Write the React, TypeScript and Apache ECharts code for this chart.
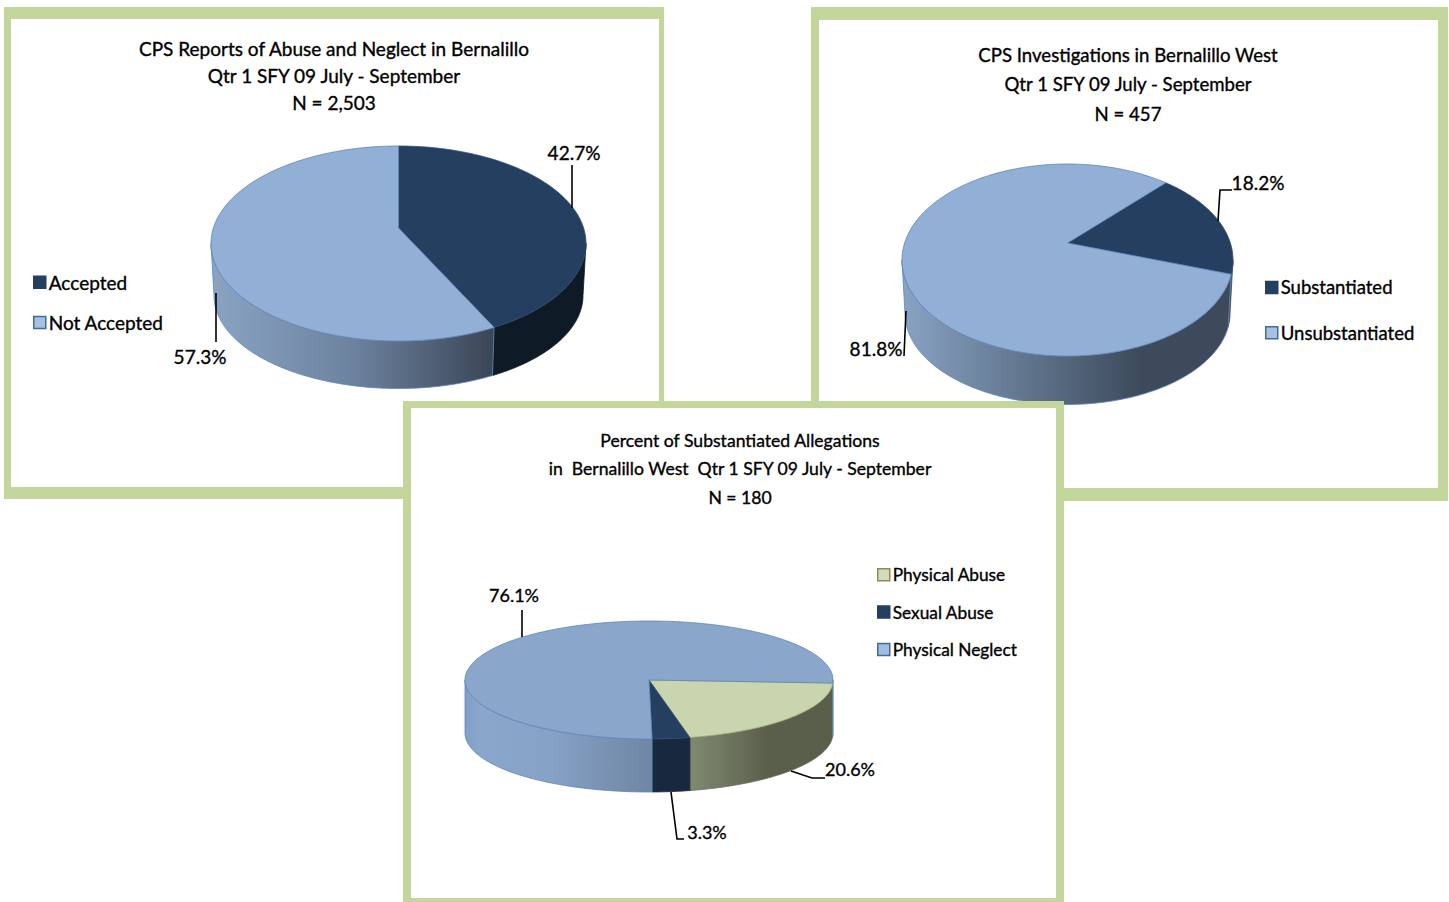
import React, { useEffect, useRef } from "react";
import * as echarts from "echarts";

const FONT = "Lato";
const TEXT = "#000000";
const FAUX_WEIGHT = 0.35;

// ---------- data ----------
const reportNames = ["Accepted", "Not Accepted"];
const reportValues = [42.7, 57.3];
const investigationNames = ["Substantiated", "Unsubstantiated"];
const investigationValues = [18.2, 81.8];
const allegationNames = ["Physical Abuse", "Sexual Abuse", "Physical Neglect"];
const allegationValues = [20.6, 3.3, 76.1];
const reportTitle = "CPS Reports of Abuse and Neglect in Bernalillo\nQtr 1 SFY 09 July - September\nN = 2,503";
const investigationTitle = "CPS Investigations in Bernalillo West\nQtr 1 SFY 09 July - September\nN = 457";
const allegationTitle = "Percent of Substantiated Allegations\nin  Bernalillo West  Qtr 1 SFY 09 July - September\nN = 180";

// ---------- layout and style ----------
const DARK = "#243f60";
const LIGHT = "#92afd5";

const panels = [
  { outer: [4, 7, 660, 492], inner: [11, 19, 648, 468], z: 0 },
  { outer: [811, 7, 637, 494], inner: [819, 20, 619, 468], z: 0 },
  { outer: [403, 401, 661, 501], inner: [411, 408, 645, 490], z: 3 },
];

type Slice = {
  top: string; edge: string; wall: [number, string][]; wallEdge: string;
  label: [number, number]; leader: [number, number][]; g?: [number, number];
};

const pies = [
  {
    names: reportNames, values: reportValues, title: reportTitle, start: 0, z: 1,
    geo: { cx: 398.5, rx: 187.5, top: 146, apex: 228, bottom: 341, sx: 0.984, sy: 0.954, d: 52, g0: 213, g1: 495 },
    titlePos: [334, 35], titleLine: 27, titleSize: 19,
    legendPos: [33, 272.5], legendGap: 21, legendSize: 19, labelSize: 19,
    legendStyle: [{ color: DARK, borderColor: DARK }, { color: "#a9c1df", borderColor: "#3f6c9f" }],
    slices: [
      { top: DARK, edge: "#2f5078", wall: [[0, "#0e1b27"], [1, "#0e1b27"]], wallEdge: "#0e1b27", label: [574, 152], leader: [[572, 165], [572, 208]] },
      { top: LIGHT, edge: "#5c86b8", wall: [[0, "#8aa3c3"], [0.5, "#6c829e"], [1, "#3a4556"]], wallEdge: "#5c86b8", label: [200, 356], leader: [[216, 293], [216, 342]] },
    ] as Slice[],
  },
  {
    names: investigationNames, values: investigationValues, title: investigationTitle, start: 43, z: 1,
    geo: { cx: 1067.5, rx: 165.5, top: 164, apex: 243, bottom: 356, sx: 0.982, sy: 0.95, d: 53.3, g0: 904, g1: 1140 },
    titlePos: [1128, 40], titleLine: 29.5, titleSize: 18.6,
    legendPos: [1265, 277.75], legendGap: 26, legendSize: 18.5, labelSize: 19,
    legendStyle: [{ color: DARK, borderColor: DARK }, { color: "#a9c1df", borderColor: "#3f6c9f" }],
    slices: [
      { top: DARK, edge: "#2f5078", wall: [[0, "#3d4a5c"], [1, "#3d4a5c"]], wallEdge: "#3d4a5c", label: [1258, 182], leader: [[1232, 190], [1220, 190], [1218, 221]] },
      { top: LIGHT, edge: "#5c86b8", wall: [[0, "#88a2c2"], [0.5, "#62778f"], [1, "#3d4a5c"]], wallEdge: "#5c86b8", label: [876, 348], leader: [[906, 311], [904, 356]] },
    ] as Slice[],
  },
  {
    names: allegationNames, values: allegationValues, title: allegationTitle, start: 93, z: 4,
    geo: { cx: 649, rx: 184, top: 621, apex: 680, bottom: 739, sx: 1, sy: 1, d: 53, g0: 465, g1: 652 },
    titlePos: [740, 426], titleLine: 28.5, titleSize: 17.6,
    legendPos: [877, 566], legendGap: 20, legendSize: 17.3, labelSize: 18,
    legendStyle: [{ color: "#d2dcb8", borderColor: "#938953" }, { color: DARK, borderColor: DARK }, { color: "#a3bde0", borderColor: "#3f6c9f" }],
    slices: [
      { top: "#c9d5ae", edge: "#a3a76a", wall: [[0, "#7f8a70"], [0.55, "#5a5f4c"], [1, "#5a5f4c"]], wallEdge: "#6a6f55", label: [850, 769], leader: [[791, 771], [812, 778], [825, 778]], g: [690, 833] },
      { top: DARK, edge: "#2f5078", wall: [[0, "#18283f"], [1, "#18283f"]], wallEdge: "#18283f", label: [707, 832], leader: [[671, 792], [677, 839], [684, 839]] },
      { top: "#8aa6cb", edge: "#5c86b8", wall: [[0, "#80a0c6"], [0.08, "#8aa6cb"], [0.45, "#86a2c7"], [1, "#6f86a4"]], wallEdge: "#5c86b8", label: [514, 595], leader: [[522, 610], [522, 637]] },
    ] as Slice[],
  },
];

type Geo = typeof pies[number]["geo"];

function project(g: Geo) {
  const a = g.apex - g.top;
  const b = g.bottom - g.apex;
  const p = (b - a) / (b + a);
  const B = a * (1 + p);
  const A = g.rx * Math.sqrt(1 - p * p);
  const cy = (g.top + g.bottom) / 2;
  const upper = (deg: number): number[] => {
    const t = (deg * Math.PI) / 180;
    const u = Math.sin(t);
    const v = -Math.cos(t);
    const w = 1 - p * v;
    return [g.cx + (A * u) / w, g.apex + (B * v) / w];
  };
  const lower = (deg: number): number[] => {
    const [x, y] = upper(deg);
    return [g.cx + (x - g.cx) * g.sx, cy + (y - cy) * g.sy + g.d];
  };
  // the rim angle at which the pie is widest: only the arc between the two faces the viewer
  const widest = (Math.acos(-p) * 180) / Math.PI;
  return { upper, lower, widest };
}

function sweep(from: number, to: number, fn: (d: number) => number[]) {
  const pts: number[][] = [];
  const n = Math.max(2, Math.ceil(Math.abs(to - from)));
  for (let i = 0; i <= n; i++) pts.push(fn(from + ((to - from) * i) / n));
  return pts;
}

function buildOption() {
  const series: any[] = [];
  const titles: any[] = [];
  const legends: any[] = [];
  pies.forEach((pie) => {
    const total = pie.values.reduce((s, v) => s + v, 0);
    const { upper, lower, widest } = project(pie.geo);
    let cursor = pie.start;
    pie.names.forEach((name, i) => {
      const from = cursor;
      const slice = pie.slices[i];
      cursor += (pie.values[i] / total) * 360;
      series.push({
        type: "custom",
        name,
        coordinateSystem: "none",
        z: pie.z,
        data: [[pie.values[i]]],
        itemStyle: { color: slice.top },
        renderItem: (_p: any, api: any) => {
          const value = api.value(0);
          const to = from + (value / total) * 360;
          const rimTop = sweep(from, to, upper);
          const [g0, g1] = slice.g ?? [pie.geo.g0, pie.geo.g1];
          const walls: any[] = [];
          [0, 360].forEach((turn) => {
            const a = Math.max(from, widest + turn);
            const b = Math.min(to, 360 - widest + turn);
            if (b <= a) return;
            walls.push({
              type: "polygon", z2: 1,
              shape: { points: [...sweep(a, b, upper), ...sweep(b, a, lower)] },
              style: {
                fill: new echarts.graphic.LinearGradient(g0, 0, g1, 0,
                  slice.wall.map(([offset, color]) => ({ offset, color })), true),
                stroke: slice.wallEdge, lineWidth: 0.8,
              },
            });
          });
          return {
            type: "group",
            children: [
              ...walls,
              {
                type: "polygon", z2: 2,
                shape: { points: [[pie.geo.cx, pie.geo.apex], ...rimTop] },
                style: { fill: slice.top, stroke: slice.edge, lineWidth: 0.8 },
              },
              {
                type: "polyline", z2: 3,
                shape: { points: slice.leader },
                style: { fill: "none", stroke: "#000000", lineWidth: 1.6 },
              },
              {
                type: "text", z2: 3, x: slice.label[0], y: slice.label[1],
                style: {
                  text: `${value.toFixed(1)}%`, fill: TEXT, fontFamily: FONT, fontSize: pie.labelSize,
                  stroke: TEXT, lineWidth: FAUX_WEIGHT, align: "center", verticalAlign: "middle",
                },
              },
            ],
          };
        },
      });
    });
    titles.push({
      text: pie.title, left: pie.titlePos[0], top: pie.titlePos[1], textAlign: "center", padding: 0, z: 8,
      textStyle: {
        fontFamily: FONT, fontSize: pie.titleSize, fontWeight: "normal", color: TEXT, lineHeight: pie.titleLine,
        textBorderColor: TEXT, textBorderWidth: FAUX_WEIGHT,
      },
    });
    legends.push({
      orient: "vertical", left: pie.legendPos[0], top: pie.legendPos[1], padding: 0, z: 8,
      itemWidth: 12, itemHeight: 12, itemGap: pie.legendGap, icon: "rect", selectedMode: false,
      textStyle: {
        fontFamily: FONT, fontSize: pie.legendSize, color: TEXT, padding: [0, 0, 0, -2],
        textBorderColor: TEXT, textBorderWidth: FAUX_WEIGHT,
      },
      data: pie.names.map((name, i) => ({ name, itemStyle: { ...pie.legendStyle[i], borderWidth: 1.5 } })),
    });
  });
  const graphic = panels.flatMap((p) => [
    { type: "rect", z: p.z, z2: 0, silent: true, shape: { x: p.outer[0], y: p.outer[1], width: p.outer[2], height: p.outer[3] }, style: { fill: "#c3d69b" } },
    { type: "rect", z: p.z, z2: 1, silent: true, shape: { x: p.inner[0], y: p.inner[1], width: p.inner[2], height: p.inner[3] }, style: { fill: "#ffffff" } },
  ]);
  return { animation: false, backgroundColor: "#ffffff", title: titles, legend: legends, graphic: { elements: graphic }, series };
}

export default function App() {
  const ref = useRef<HTMLDivElement>(null);
  useEffect(() => {
    const chart = echarts.init(ref.current!, undefined, { renderer: "svg" });
    chart.setOption(buildOption());
    return () => chart.dispose();
  }, []);
  return <div ref={ref} style={{ position: "absolute", left: 0, top: 0, width: 1449, height: 902 }} />;
}
